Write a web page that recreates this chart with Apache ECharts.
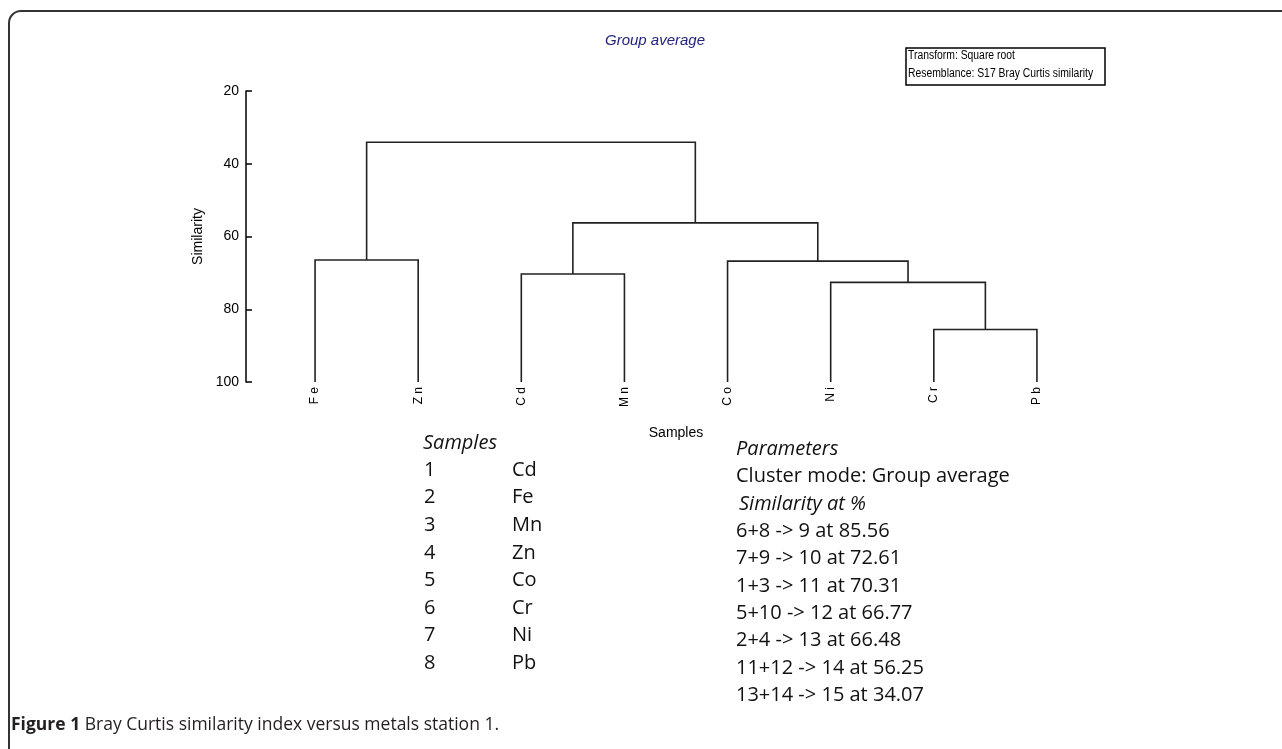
<!DOCTYPE html>
<html>
<head>
<meta charset="utf-8">
<title>Bray Curtis similarity</title>
<script src="https://cdn.jsdelivr.net/npm/echarts@6/dist/echarts.min.js"></script>
<style>
  html, body { margin: 0; padding: 0; background: #fff; }
  #main { width: 1282px; height: 749px; }
</style>
</head>
<body>
<div id="main"></div>
<script>
// samples numbered 1..8
var sampleNames = ['Cd', 'Fe', 'Mn', 'Zn', 'Co', 'Cr', 'Ni', 'Pb'];
// leaf order along the x axis
var leafOrder = ['Fe', 'Zn', 'Cd', 'Mn', 'Co', 'Ni', 'Cr', 'Pb'];
// merges: [node a, node b, similarity]; new node id = 9 + index
var mergeA = [6, 7, 1, 5, 2, 11, 13];
var mergeB = [8, 9, 3, 10, 4, 12, 14];
var mergeSim = [85.56, 72.61, 70.31, 66.77, 66.48, 56.25, 34.07];
var yTicks = [20, 40, 60, 80, 100];

var narrow = "'Liberation Sans Narrow', 'Arial Narrow', 'Liberation Sans', sans-serif";
var body = "'Open Sans', 'Noto Sans', sans-serif";

// node positions (x index, height) for the dendrogram
var nodeX = {}, nodeH = {};
sampleNames.forEach(function (n, i) {
  nodeX[i + 1] = leafOrder.indexOf(n);
  nodeH[i + 1] = 100;
});
var segs = [];
mergeSim.forEach(function (s, k) {
  var a = mergeA[k], b = mergeB[k];
  var xa = nodeX[a], xb = nodeX[b];
  var left = xa < xb ? a : b, right = xa < xb ? b : a;
  segs.push([nodeX[left], nodeX[right], nodeH[left], nodeH[right], s]);
  nodeX[9 + k] = (xa + xb) / 2;
  nodeH[9 + k] = s;
});

var chart = echarts.init(document.getElementById('main'));

// frame, legend box and the text blocks below the chart
var graphics = [];
graphics.push({
  type: 'rect', shape: { x: 9, y: 11, width: 1300, height: 800, r: 12 },
  style: { fill: 'none', stroke: '#333', lineWidth: 2 }, silent: true
});
graphics.push({
  type: 'rect', shape: { x: 906, y: 48, width: 199, height: 37 },
  style: { fill: 'none', stroke: '#000', lineWidth: 1.5 }
});
graphics.push({ type: 'text', x: 908, y: 56, scaleX: 0.83, style: { text: 'Transform: Square root', font: '12.5px ' + narrow, fill: '#000', verticalAlign: 'middle' } });
graphics.push({ type: 'text', x: 908, y: 74, scaleX: 0.83, style: { text: 'Resemblance: S17 Bray Curtis similarity', font: '12.5px ' + narrow, fill: '#000', verticalAlign: 'middle' } });

graphics.push({ type: 'text', x: 423, y: 443, style: { text: 'Samples', font: 'italic 20px ' + body, fill: '#111', verticalAlign: 'middle' } });
sampleNames.forEach(function (n, i) {
  var y = 470 + i * 27.6;
  graphics.push({ type: 'text', x: 424, y: y, style: { text: String(i + 1), font: '20px ' + body, fill: '#111', verticalAlign: 'middle' } });
  graphics.push({ type: 'text', x: 512, y: y, style: { text: n, font: '20px ' + body, fill: '#111', verticalAlign: 'middle' } });
});

graphics.push({ type: 'text', x: 736, y: 449, style: { text: 'Parameters', font: 'italic 20px ' + body, fill: '#111', verticalAlign: 'middle' } });
graphics.push({ type: 'text', x: 736, y: 476, style: { text: 'Cluster mode: Group average', font: '20px ' + body, fill: '#111', verticalAlign: 'middle' } });
graphics.push({ type: 'text', x: 739, y: 504, style: { text: 'Similarity at %', font: 'italic 20px ' + body, fill: '#111', verticalAlign: 'middle' } });
mergeSim.forEach(function (s, k) {
  graphics.push({
    type: 'text', x: 736, y: 531 + k * 27.4,
    style: { text: mergeA[k] + '+' + mergeB[k] + ' -> ' + (9 + k) + ' at ' + s.toFixed(2), font: '20px ' + body, fill: '#111', verticalAlign: 'middle' }
  });
});

graphics.push({
  type: 'text', x: 11, y: 725,
  style: {
    text: '{b|Figure 1} Bray Curtis similarity index versus metals station 1.',
    font: '17.5px ' + body, fill: '#231f20', verticalAlign: 'middle',
    rich: { b: { fontWeight: 'bold', fontSize: 17.5, fontFamily: body, fill: '#231f20' } }
  }
});

var option = {
  backgroundColor: '#fff',
  animation: false,
  title: {
    text: 'Group average',
    left: 650, top: 28, textAlign: 'center',
    textStyle: { fontSize: 15, fontStyle: 'italic', fontWeight: 'normal', color: '#23237f', fontFamily: "'Liberation Sans', Arial, sans-serif" }
  },
  grid: { left: 263.5, right: 193.5, top: 91, bottom: 367 },
  xAxis: [{
    type: 'category',
    data: leafOrder,
    boundaryGap: true,
    axisLine: { show: false },
    axisTick: { show: false },
    axisLabel: {
      rotate: 90, margin: 5, fontSize: 12, color: '#000', fontFamily: narrow,
      formatter: function (v) { return v.split('').join(' '); }
    },
    name: 'Samples',
    nameLocation: 'middle',
    nameGap: 44,
    nameTextStyle: { fontSize: 14, color: '#000', fontFamily: narrow }
  }, {
    type: 'value', min: -0.5, max: 7.5, show: false
  }],
  yAxis: {
    type: 'value',
    inverse: true,
    min: yTicks[0], max: yTicks[yTicks.length - 1], interval: 20,
    offset: 17.5,
    axisLine: { show: true, onZero: false, lineStyle: { color: '#000', width: 1.5 } },
    axisTick: { show: true, inside: true, length: 6, lineStyle: { color: '#000', width: 1.5 } },
    axisLabel: { fontSize: 14, color: '#000', fontFamily: narrow, margin: 7 },
    splitLine: { show: false },
    name: 'Similarity',
    nameLocation: 'middle',
    nameGap: 40,
    nameRotate: 90,
    nameTextStyle: { fontSize: 14, color: '#000', fontFamily: narrow }
  },
  series: [{
    type: 'custom',
    xAxisIndex: 1,
    data: segs,
    encode: { x: [0, 1], y: [2, 3, 4] },
    renderItem: function (params, api) {
      var p1 = api.coord([api.value(0), api.value(2)]);
      var p2 = api.coord([api.value(0), api.value(4)]);
      var p3 = api.coord([api.value(1), api.value(4)]);
      var p4 = api.coord([api.value(1), api.value(3)]);
      return {
        type: 'polyline',
        shape: { points: [p1, p2, p3, p4] },
        style: { fill: 'none', stroke: '#222', lineWidth: 1.6 }
      };
    }
  }],
  graphic: graphics
};
chart.setOption(option);
</script>
</body>
</html>
